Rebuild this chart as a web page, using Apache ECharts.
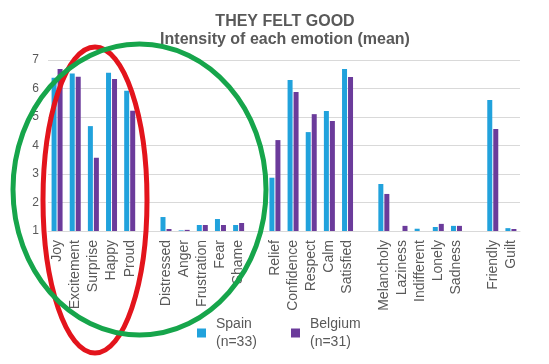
<!DOCTYPE html>
<html><head><meta charset="utf-8">
<script src="https://cdn.jsdelivr.net/npm/echarts@6/dist/echarts.min.js"></script>
<style>html,body{margin:0;padding:0;background:#fff}#c{width:549px;height:364px}</style>
</head><body><div id="c"></div>
<script>
var categories = ['Joy','Excitement','Surprise','Happy','Proud','',
  'Distressed','Anger','Frustration','Fear','Shame','',
  'Relief','Confidence','Respect','Calm','Satisfied','',
  'Melancholy','Laziness','Indifferent','Lonely','Sadness','',
  'Friendly','Guilt'];
var spain = [6.38,6.53,4.68,6.55,5.92,null,
  1.49,1.02,1.21,1.42,1.21,null,
  2.87,6.30,4.47,5.21,6.68,null,
  2.65,1.00,1.08,1.14,1.18,null,
  5.60,1.10];
var belgium = [6.68,6.41,3.57,6.33,5.22,null,
  1.07,1.04,1.21,1.21,1.28,null,
  4.19,5.88,5.10,4.86,6.40,null,
  2.30,1.18,1.00,1.25,1.18,null,
  4.58,1.07];
var yTicks = [1,2,3,4,5,6,7];
var legendNames = {Spain:'Spain\n(n=33)', Belgium:'Belgium\n(n=31)'};

var chart = echarts.init(document.getElementById('c'));
var font = 'Liberation Sans, Arial, sans-serif';
chart.setOption({
  animation:false,
  title:{text:'THEY FELT GOOD\nIntensity of each emotion (mean)', left:280, top:8, textAlign:'center',
    textStyle:{fontFamily:font, fontSize:16, fontWeight:'bold', color:'#595959', lineHeight:18}},
  legend:[
    {data:['Spain'], left:197, top:315, padding:0, orient:'vertical', itemWidth:9, itemHeight:9, icon:'rect',
     formatter:function(n){return legendNames[n];},
     textStyle:{fontFamily:font, fontSize:14, color:'#595959', lineHeight:18, padding:[0,0,0,5]}},
    {data:['Belgium'], left:291, top:315, padding:0, orient:'vertical', itemWidth:9, itemHeight:9, icon:'rect',
     formatter:function(n){return legendNames[n];},
     textStyle:{fontFamily:font, fontSize:14, color:'#595959', lineHeight:18, padding:[0,0,0,5]}}
  ],
  grid:{left:48, right:29, top:60, bottom:133},
  xAxis:{type:'category', data:categories, axisTick:{show:false},
    axisLine:{show:true, lineStyle:{color:'#d9d9d9'}},
    axisLabel:{rotate:90, interval:0, margin:9, fontFamily:font, fontSize:14, color:'#595959'}},
  yAxis:{type:'value', min:yTicks[0], max:yTicks[yTicks.length-1], interval:1,
    axisLine:{show:false}, axisTick:{show:false},
    splitLine:{lineStyle:{color:'#d9d9d9'}},
    axisLabel:{fontFamily:font, fontSize:12, color:'#595959', margin:9}},
  series:[
    {name:'Spain', type:'bar', data:spain, barWidth:5, barGap:'20%', itemStyle:{color:'#21a2dc'}},
    {name:'Belgium', type:'bar', data:belgium, barWidth:5, barGap:'20%', itemStyle:{color:'#6b3b9b'}}
  ],
  graphic:[
    {type:'ellipse', z:100, shape:{cx:95, cy:200, rx:52, ry:153}, style:{fill:null, stroke:'#e3141c', lineWidth:5}},
    {type:'ellipse', z:101, shape:{cx:139.5, cy:189.5, rx:126.5, ry:145.5}, style:{fill:null, stroke:'#16a54b', lineWidth:5}}
  ]
});
</script></body></html>
